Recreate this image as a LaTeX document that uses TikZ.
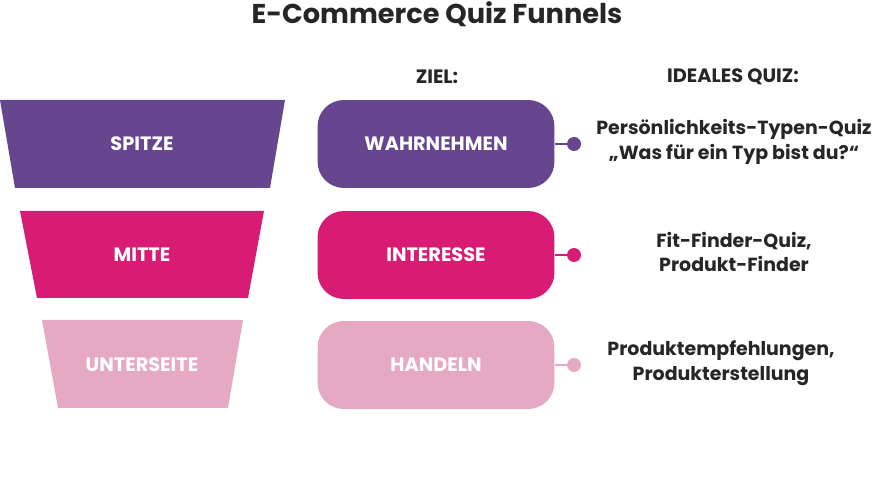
\documentclass[tikz,border=0pt]{standalone}
\usepackage{fontspec}
\setmainfont{Poppins}
\usetikzlibrary{positioning}
\definecolor{lila}{HTML}{66468F}
\definecolor{magenta}{HTML}{D81B74}
\definecolor{rosa}{HTML}{E5A9C4}
\tikzset{
  goal/.style={rounded corners=15pt, minimum width=4.74cm, minimum height=1.76cm, text=white, font=\bfseries\fontsize{11}{14}\selectfont},
  quiz/.style={align=center, font=\bfseries\fontsize{10.8}{14}\selectfont, text=black!85},
  head/.style={font=\bfseries\fontsize{11}{14}\selectfont, text=black!85},
  part/.style={text=white, font=\bfseries\fontsize{11}{14}\selectfont},
  dot/.style={circle, inner sep=0pt, minimum size=0.28cm}
}
\begin{document}
\begin{tikzpicture}[x=0.02cm,y=-0.02cm]
\useasboundingbox (0,0) rectangle (875,499);
\node[font=\bfseries\fontsize{15.5}{18}\selectfont, text=black!85] (title) at (437,14) {E-Commerce Quiz Funnels};
\node[head] (ziel) at (437,77) {ZIEL:};
\node[head] (ideal) at (733,77) {IDEALES QUIZ:};
% Trichter
\fill[lila] (0,100) -- (285,100) -- (270,188) -- (15,188) -- cycle;
\fill[magenta] (20,211) -- (264,211) -- (248,298) -- (37,298) -- cycle;
\fill[rosa] (42,320) -- (243,320) -- (228,408) -- (58,408) -- cycle;
\node[part] (spitze) at (142,144) {SPITZE};
\node[part] (mitte) at (142,255) {MITTE};
\node[part] (unten) at (142,365) {UNTERSEITE};
% Ziele
\node[goal, fill=lila] (wahr) at (436,144) {WAHRNEHMEN};
\node[goal, fill=magenta] (inter) at (436,255) {INTERESSE};
\node[goal, fill=rosa] (hand) at (436,365) {HANDELN};
\node[dot, fill=lila] (d1) at (574,144) {};
\node[dot, fill=magenta] (d2) at (574,255) {};
\node[dot, fill=rosa] (d3) at (574,365) {};
\draw[lila, line width=1pt] (wahr) -- (d1);
\draw[magenta, line width=1pt] (inter) -- (d2);
\draw[rosa, line width=1pt] (hand) -- (d3);
% Quiz
\node[quiz] (q1) at (734,142) {Persönlichkeits-Typen-Quiz\\„Was für ein Typ bist du?“};
\node[quiz] (q2) at (734,252) {Fit-Finder-Quiz,\\Produkt-Finder};
\node[quiz] (q3) at (721,363) {Produktempfehlungen,\\Produkterstellung};
\end{tikzpicture}
\end{document}
